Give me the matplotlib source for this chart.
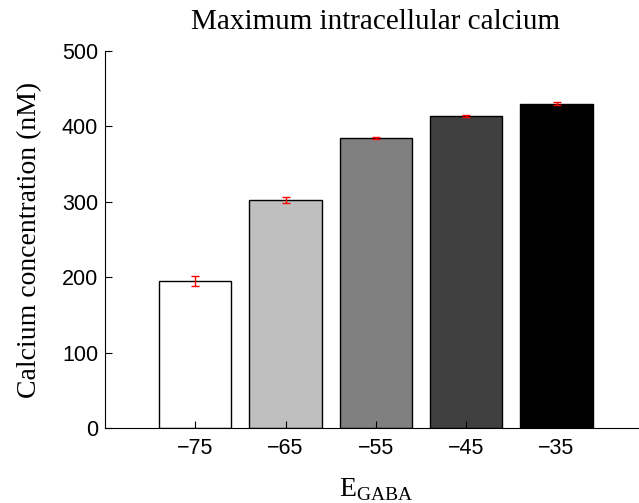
import matplotlib
matplotlib.use("Agg")
import matplotlib.pyplot as plt

# values
egaba = [-75, -65, -55, -45, -35]
calcium = [195, 303, 385, 414, 430]
calcium_err = [7, 4, 1, 1, 2]
bar_colors = ["#ffffff", "#bfbfbf", "#808080", "#404040", "#000000"]

plt.rcParams["mathtext.fontset"] = "custom"
plt.rcParams["mathtext.rm"] = "Liberation Serif"

fig = plt.figure(figsize=(6.39, 5.03), dpi=100)
ax = fig.add_axes([0.1643, 0.149, 0.848, 0.7495])

ax.bar(egaba, calcium, width=8, color=bar_colors, edgecolor="black", linewidth=1.0)
ax.errorbar(egaba, calcium, yerr=calcium_err, fmt="none", ecolor="red",
            elinewidth=1.0, capsize=3, capthick=1.0)

ax.set_xlim(-85, -25)
ax.set_ylim(0, 500)
ax.set_xticks(egaba)
ax.set_xticklabels(["\u221275", "\u221265", "\u221255", "\u221245", "\u221235"])
ax.set_yticks([0, 100, 200, 300, 400, 500])
ax.tick_params(direction="in", length=5, labelsize=15.5)
ax.tick_params(axis="y", pad=5)
ax.tick_params(axis="x", pad=7)
for lbl in ax.get_xticklabels() + ax.get_yticklabels():
    lbl.set_fontfamily("Liberation Sans")

ax.spines["top"].set_visible(False)
ax.spines["right"].set_visible(False)

ax.set_title("Maximum intracellular calcium", fontfamily="Liberation Serif",
             fontsize=21, pad=16)
ax.set_ylabel("Calcium concentration (nM)", fontfamily="Liberation Serif",
              fontsize=20, labelpad=14)
ax.set_xlabel(r"$\mathrm{E}_{\mathrm{GABA}}$", fontsize=20, labelpad=12)

fig.savefig("out.png", dpi=100)
plt.close(fig)
